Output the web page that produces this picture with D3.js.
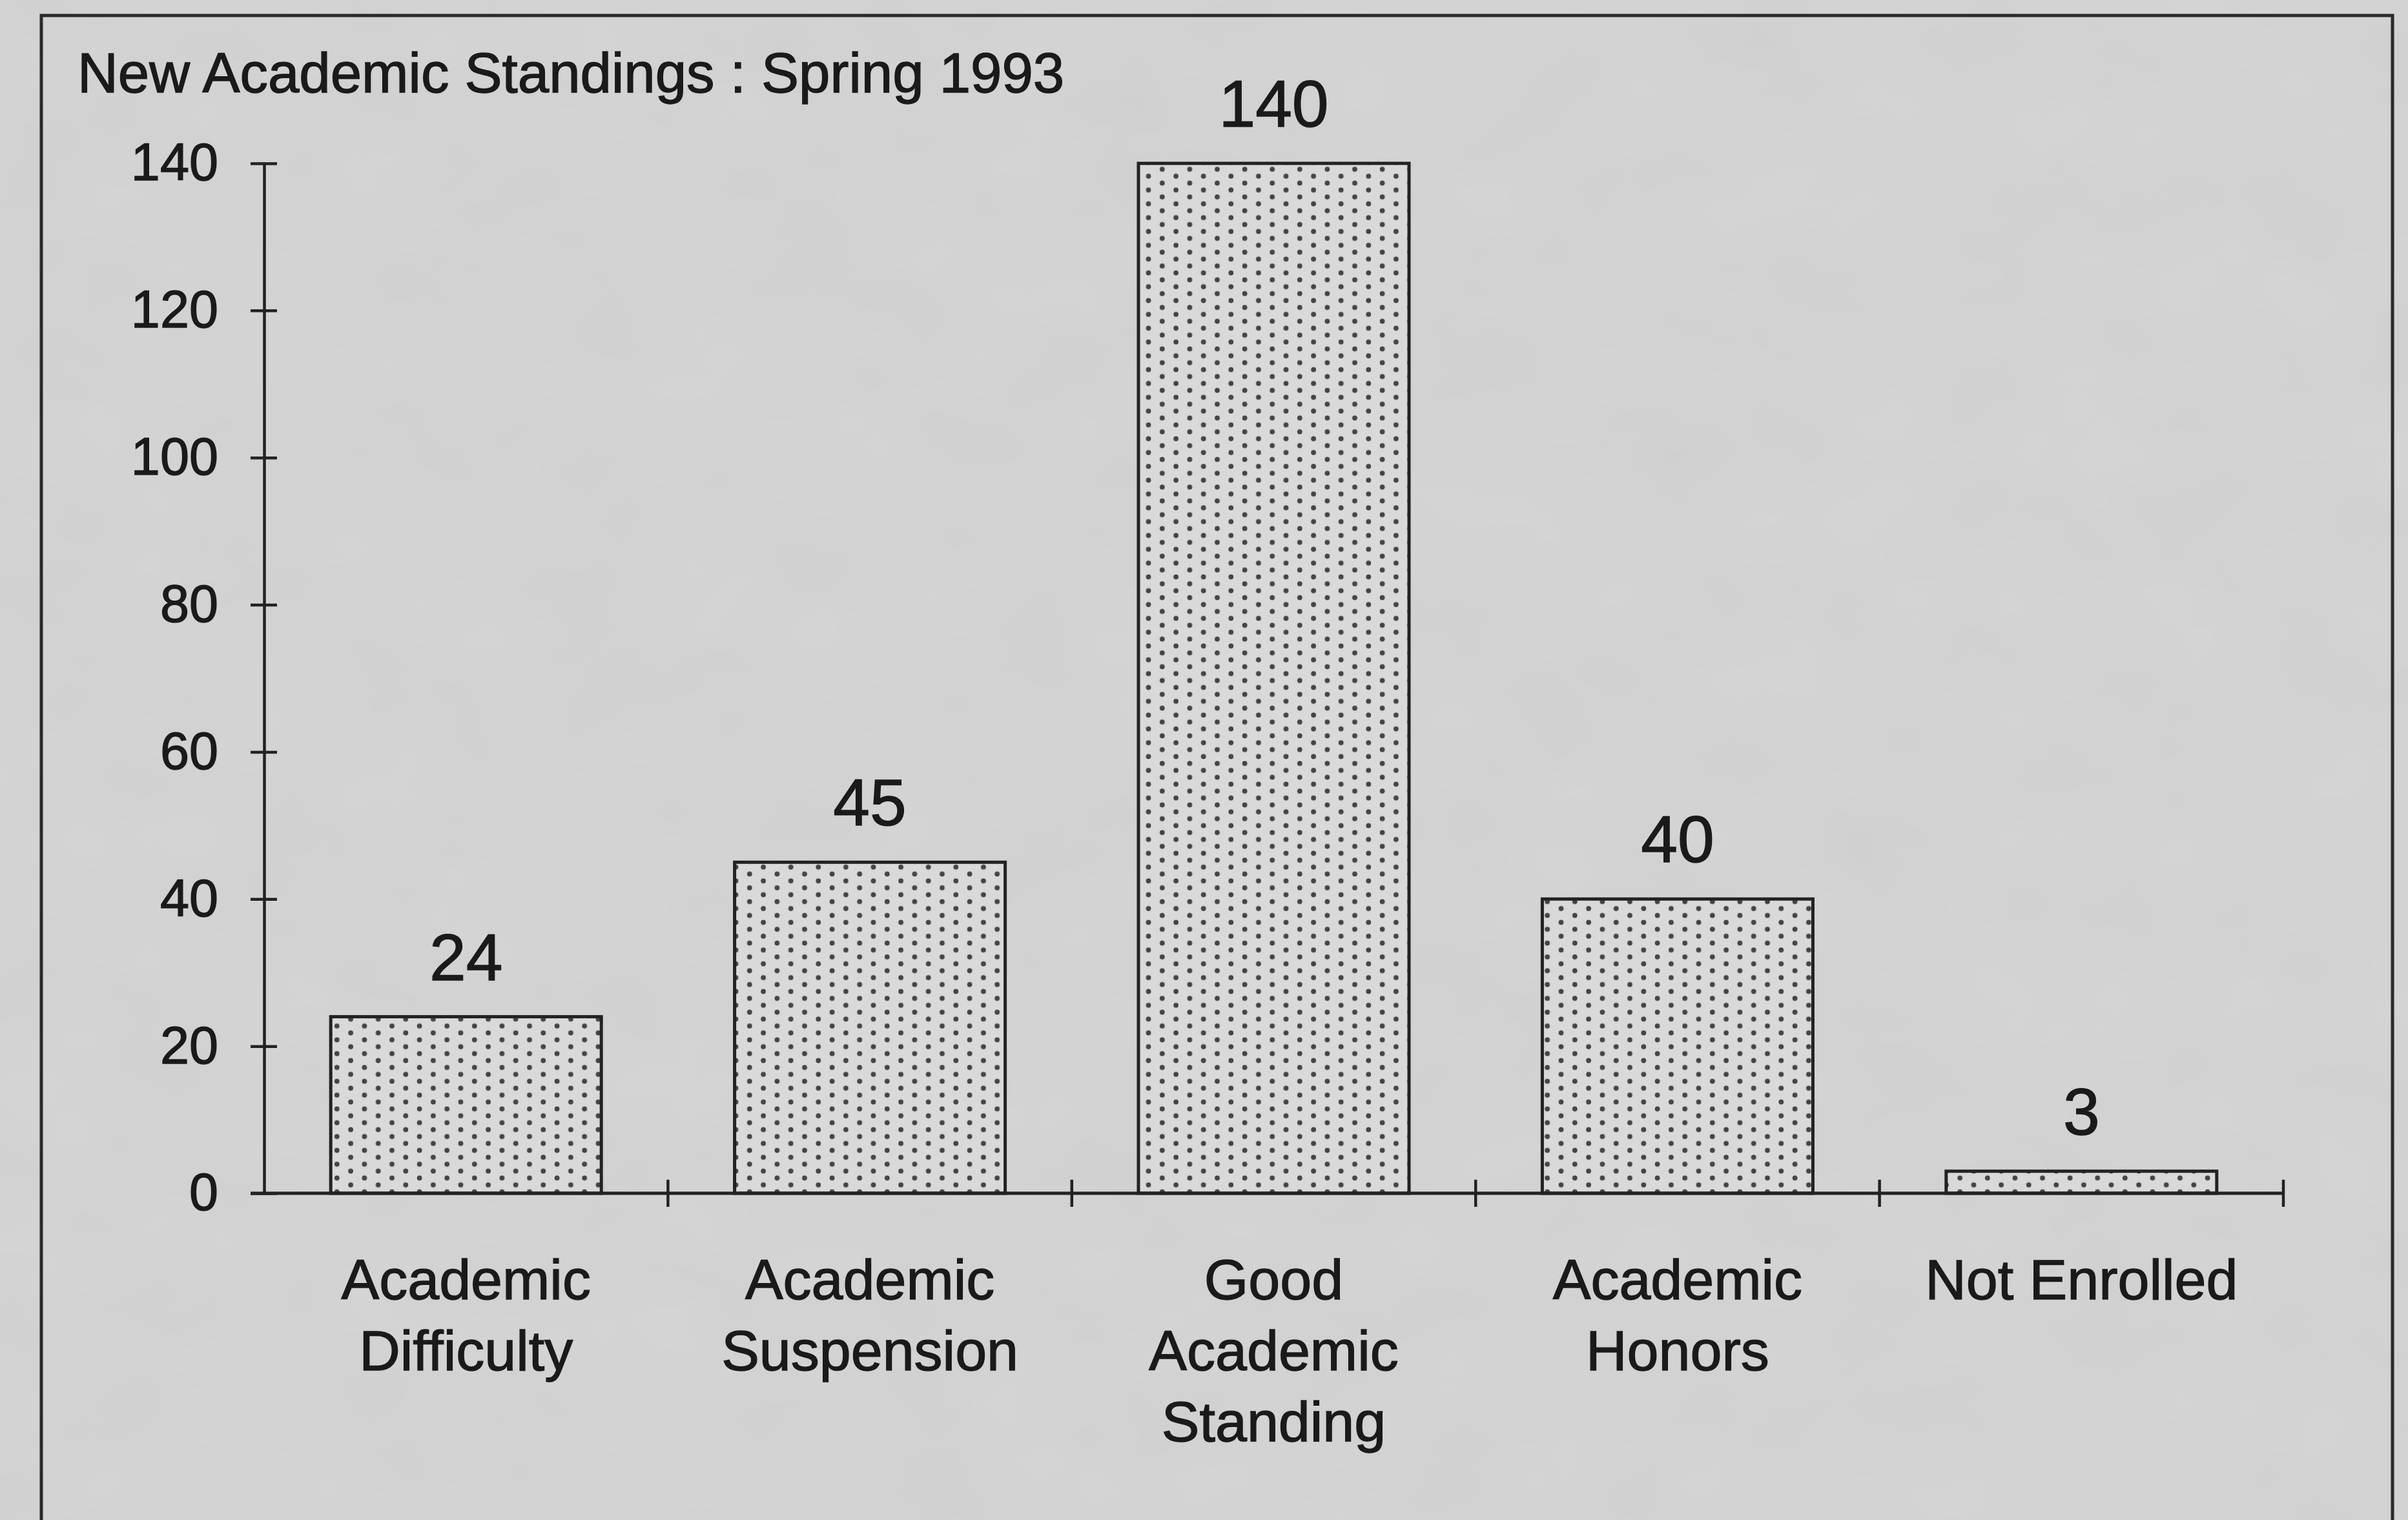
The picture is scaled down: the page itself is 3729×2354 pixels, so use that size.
<!DOCTYPE html>
<html>
<head>
<meta charset="utf-8">
<script src="https://cdn.jsdelivr.net/npm/d3@7"></script>
<style>
  body { margin: 0; background: #d3d3d3; }
  text { font-family: "Liberation Sans", Arial, sans-serif; fill: #1a1a1a; stroke: #1a1a1a; stroke-width: 1.4px; }
</style>
</head>
<body>
<div class="chart"></div>
<script>
// New Academic Standings : Spring 1993

var categories = [
  ["Academic", "Difficulty"],
  ["Academic", "Suspension"],
  ["Good", "Academic", "Standing"],
  ["Academic", "Honors"],
  ["Not Enrolled"]
];
var counts = [24, 45, 140, 40, 3];
var yTicks = [0, 20, 40, 60, 80, 100, 120, 140];
var title = "New Academic Standings : Spring 1993";

var svgWidth = 3729;
var svgHeight = 2354;

// plot area (axis origin and top tick)
var plot = { left: 409, right: 3536, top: 253, bottom: 1848 };

var svg = d3.select(".chart")
  .append("svg")
  .attr("width", svgWidth)
  .attr("height", svgHeight);

var defs = svg.append("defs");

// paper grain
var grain = defs.append("filter")
  .attr("id", "grain")
  .attr("x", 0).attr("y", 0).attr("width", "100%").attr("height", "100%");
grain.append("feTurbulence")
  .attr("type", "fractalNoise")
  .attr("baseFrequency", "0.006 0.008")
  .attr("numOctaves", 3)
  .attr("seed", 7);
grain.append("feColorMatrix")
  .attr("type", "matrix")
  .attr("values", "0 0 0 0 0.5  0 0 0 0 0.5  0 0 0 0 0.5  0.22 0 0 0 -0.04");

// dotted fill used by the bars
var dots = defs.append("pattern")
  .attr("id", "dots")
  .attr("patternUnits", "userSpaceOnUse")
  .attr("width", 42.6)
  .attr("height", 21.4);
dots.append("rect")
  .attr("width", 42.6)
  .attr("height", 21.4)
  .attr("fill", "#d9d9d9");
dots.append("circle").attr("cx", 10.6).attr("cy", 5.3).attr("r", 3.9).attr("fill", "#444");
dots.append("circle").attr("cx", 31.9).attr("cy", 16).attr("r", 3.9).attr("fill", "#444");

svg.append("rect")
  .attr("width", svgWidth)
  .attr("height", svgHeight)
  .attr("fill", "#d4d4d4");
svg.append("rect")
  .attr("width", svgWidth)
  .attr("height", svgHeight)
  .attr("filter", "url(#grain)");

// outer frame (bottom edge runs off the page)
svg.append("path")
  .attr("d", "M64,2400 V24 H3705 V2400")
  .attr("fill", "none")
  .attr("stroke", "#2a2a2a")
  .attr("stroke-width", 5);

// title
svg.append("text")
  .attr("x", 120)
  .attr("y", 143)
  .style("font-size", "87px")
  .text(title);

// scales
var xScale = d3.scaleBand()
  .domain(d3.range(counts.length))
  .range([plot.left, plot.right])
  .paddingInner(0.33)
  .paddingOuter(0.165);

var yScale = d3.scaleLinear()
  .domain([0, 140])
  .range([plot.bottom, plot.top]);

// bars
svg.selectAll("rect.bar")
  .data(counts)
  .enter()
  .append("rect")
  .classed("bar", true)
  .attr("x", (d, i) => xScale(i))
  .attr("y", d => yScale(d))
  .attr("width", xScale.bandwidth())
  .attr("height", d => yScale(0) - yScale(d))
  .attr("fill", "url(#dots)")
  .attr("stroke", "#222")
  .attr("stroke-width", 5);

// value labels
svg.selectAll("text.value")
  .data(counts)
  .enter()
  .append("text")
  .classed("value", true)
  .attr("x", (d, i) => xScale(i) + xScale.bandwidth() / 2)
  .attr("y", d => yScale(d) - 57)
  .attr("text-anchor", "middle")
  .style("font-size", "102px")
  .text(d => d);

// y axis: ticks cross the line
var leftAxis = d3.axisLeft(yScale)
  .tickValues(yTicks)
  .tickSize(0)
  .tickPadding(71);

var yAxis = svg.append("g")
  .attr("transform", `translate(${plot.left}, 0)`)
  .call(leftAxis);
yAxis.select(".domain")
  .attr("stroke", "#222")
  .attr("stroke-width", 4.5);
yAxis.selectAll(".tick line")
  .attr("x1", -21)
  .attr("x2", 20)
  .attr("stroke", "#222")
  .attr("stroke-width", 4.5);
yAxis.selectAll(".tick text")
  .style("font-size", "81px")
  .style("font-family", "'Liberation Sans', Arial, sans-serif")
  .attr("fill", "#1a1a1a");

// x axis with ticks at the band edges
var edges = d3.range(counts.length).map(i => xScale(i) + xScale.bandwidth() + xScale.step() * xScale.paddingInner() / 2);
edges[edges.length - 1] = plot.right;

svg.append("line")
  .attr("x1", plot.left - 21)
  .attr("x2", plot.right)
  .attr("y1", plot.bottom)
  .attr("y2", plot.bottom)
  .attr("stroke", "#222")
  .attr("stroke-width", 5);

svg.selectAll("line.xtick")
  .data(edges)
  .enter()
  .append("line")
  .classed("xtick", true)
  .attr("x1", d => d)
  .attr("x2", d => d)
  .attr("y1", plot.bottom - 21)
  .attr("y2", plot.bottom + 21)
  .attr("stroke", "#222")
  .attr("stroke-width", 4.5);

// category labels
var catLabels = svg.selectAll("text.cat")
  .data(categories)
  .enter()
  .append("text")
  .classed("cat", true)
  .attr("text-anchor", "middle")
  .style("font-size", "88px");

catLabels.selectAll("tspan")
  .data((d, i) => d.map(line => ({ line: line, i: i })))
  .enter()
  .append("tspan")
  .attr("x", d => xScale(d.i) + xScale.bandwidth() / 2)
  .attr("y", (d, j) => 2012 + j * 110)
  .text(d => d.line);
</script>
</body>
</html>
